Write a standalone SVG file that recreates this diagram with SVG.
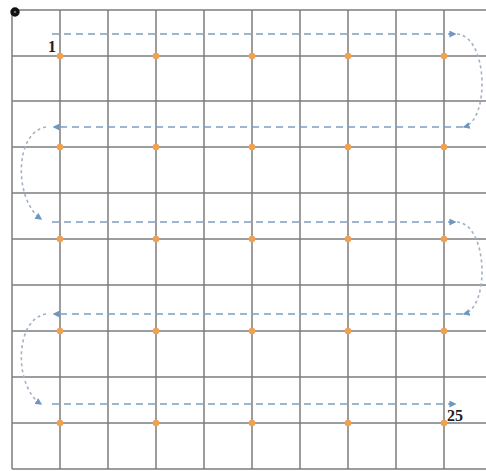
<svg xmlns="http://www.w3.org/2000/svg" width="486" height="471" viewBox="0 0 486 471">
<style>
.grid line{stroke:#7c7c7c;stroke-width:1.5}
.dot{fill:#f0a052}
.path{fill:none;stroke:#7b9ec4;stroke-width:1.6;stroke-dasharray:7 5}
.curve{fill:none;stroke:#a3b2c4;stroke-width:1.6;stroke-dasharray:3 3}
.lbl{font-family:"Liberation Serif",serif;font-weight:bold;font-size:16px;fill:#222}
</style>
<defs>
<marker id="ah" viewBox="0 0 10 10" refX="8" refY="5" markerWidth="7" markerHeight="7" markerUnits="userSpaceOnUse" orient="auto">
<path d="M0,0 L10,5 L0,10 z" fill="#6f97c4"/>
</marker>
</defs>
<rect width="486" height="471" fill="#fff"/>
<g class="grid" id="grid">
<line x1="12" y1="10" x2="12" y2="469"/>
<line x1="60" y1="10" x2="60" y2="469"/>
<line x1="108" y1="10" x2="108" y2="469"/>
<line x1="156" y1="10" x2="156" y2="469"/>
<line x1="204" y1="10" x2="204" y2="469"/>
<line x1="252" y1="10" x2="252" y2="469"/>
<line x1="300" y1="10" x2="300" y2="469"/>
<line x1="348" y1="10" x2="348" y2="469"/>
<line x1="396" y1="10" x2="396" y2="469"/>
<line x1="444" y1="10" x2="444" y2="469"/>
<line x1="12" y1="10" x2="486" y2="10"/>
<line x1="12" y1="56" x2="486" y2="56"/>
<line x1="12" y1="101" x2="486" y2="101"/>
<line x1="12" y1="147" x2="486" y2="147"/>
<line x1="12" y1="193" x2="486" y2="193"/>
<line x1="12" y1="239" x2="486" y2="239"/>
<line x1="12" y1="285" x2="486" y2="285"/>
<line x1="12" y1="331" x2="486" y2="331"/>
<line x1="12" y1="377" x2="486" y2="377"/>
<line x1="12" y1="423" x2="486" y2="423"/>
<line x1="12" y1="469" x2="486" y2="469"/>
</g>
<g id="origin"><circle cx="15" cy="12" r="3" fill="#666" stroke="#111" stroke-width="3.4"/></g>
<g id="connectors">
<line class="path" x1="52" y1="34" x2="455" y2="34" marker-end="url(#ah)"/>
<path class="curve" d="M457,34 C488,36 490,120 464,127" marker-end="url(#ah)"/>
<line class="path" x1="463" y1="127" x2="54" y2="127" marker-end="url(#ah)"/>
<path class="curve" d="M46,127 C14,132 14,200 41,219" marker-end="url(#ah)"/>
<line class="path" x1="52" y1="222" x2="455" y2="222" marker-end="url(#ah)"/>
<path class="curve" d="M457,222 C488,224 490,307 464,314" marker-end="url(#ah)"/>
<line class="path" x1="463" y1="314" x2="54" y2="314" marker-end="url(#ah)"/>
<path class="curve" d="M46,314 C14,319 14,387 41,404" marker-end="url(#ah)"/>
<line class="path" x1="52" y1="404" x2="455" y2="404" marker-end="url(#ah)"/>
</g>
<g id="points">
<circle class="dot" cx="60" cy="56" r="3.3"/><circle class="dot" cx="156" cy="56" r="3.3"/><circle class="dot" cx="252" cy="56" r="3.3"/><circle class="dot" cx="348" cy="56" r="3.3"/><circle class="dot" cx="444" cy="56" r="3.3"/>
<circle class="dot" cx="60" cy="147" r="3.3"/><circle class="dot" cx="156" cy="147" r="3.3"/><circle class="dot" cx="252" cy="147" r="3.3"/><circle class="dot" cx="348" cy="147" r="3.3"/><circle class="dot" cx="444" cy="147" r="3.3"/>
<circle class="dot" cx="60" cy="239" r="3.3"/><circle class="dot" cx="156" cy="239" r="3.3"/><circle class="dot" cx="252" cy="239" r="3.3"/><circle class="dot" cx="348" cy="239" r="3.3"/><circle class="dot" cx="444" cy="239" r="3.3"/>
<circle class="dot" cx="60" cy="331" r="3.3"/><circle class="dot" cx="156" cy="331" r="3.3"/><circle class="dot" cx="252" cy="331" r="3.3"/><circle class="dot" cx="348" cy="331" r="3.3"/><circle class="dot" cx="444" cy="331" r="3.3"/>
<circle class="dot" cx="60" cy="423" r="3.3"/><circle class="dot" cx="156" cy="423" r="3.3"/><circle class="dot" cx="252" cy="423" r="3.3"/><circle class="dot" cx="348" cy="423" r="3.3"/><circle class="dot" cx="444" cy="423" r="3.3"/>
</g>
<g id="labels">
<text class="lbl" x="48" y="52">1</text>
<text class="lbl" x="447" y="421">25</text>
</g>
</svg>
